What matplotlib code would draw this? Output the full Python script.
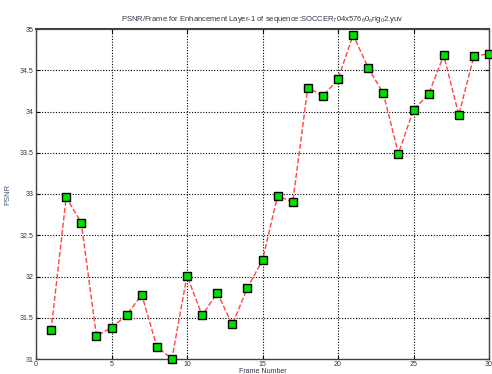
import matplotlib
matplotlib.use("Agg")
import matplotlib.pyplot as plt

# PSNR per frame, enhancement layer 1
frames = list(range(1, 31))
psnr = [31.35, 32.96, 32.65, 31.28, 31.38, 31.53, 31.78, 31.15, 31.00, 32.01,
        31.53, 31.80, 31.42, 31.86, 32.20, 32.98, 32.90, 34.29, 34.19, 34.39,
        34.93, 34.53, 34.22, 33.49, 34.02, 34.21, 34.68, 33.96, 34.67, 34.70]

x_ticks = [0, 5, 10, 15, 20, 25, 30]
y_ticks = [31, 31.5, 32, 32.5, 33, 33.5, 34, 34.5, 35]
y_ticklabels = ["31", "31.5", "32", "32.5", "33", "33.5", "34", "34.5", "35"]

plt.rcParams["font.family"] = ["Liberation Sans", "DejaVu Sans"]
plt.rcParams["mathtext.fontset"] = "custom"
plt.rcParams["mathtext.rm"] = "Liberation Sans"
plt.rcParams["mathtext.it"] = "Liberation Sans"

fig = plt.figure(figsize=(4.92, 3.74), dpi=100)
ax = fig.add_axes([36 / 492, 1 - 359 / 374, (489 - 36) / 492, (359 - 29) / 374])

ax.plot(frames, psnr, linestyle="--", color="#ff4444", lw=1.0,
        marker="s", markersize=5.5, markerfacecolor="#00e000",
        markeredgecolor="black", markeredgewidth=1.0, clip_on=False, zorder=3)

ax.set_xlim(0, 30)
ax.set_ylim(31, 35)
ax.set_xticks(x_ticks)
ax.set_yticks(y_ticks)
ax.set_yticklabels(y_ticklabels)
ax.grid(True, color="black", linestyle=(0, (1, 1.5)), linewidth=0.8)
ax.tick_params(direction="in", length=3, width=0.8, labelsize=5,
               labelcolor="#333344", top=True, right=True, pad=1.5)
for side in ax.spines.values():
    side.set_linewidth(1.0)
    side.set_color("#444444")
ax.spines["top"].set_linewidth(1.5)

ax.set_title("PSNR/Frame for Enhancement Layer-1 of sequence:"
             "SOCCER$_7$04x576$_6$0$_o$rig$_0$2.yuv",
             fontsize=5.5, color="#333344", pad=6)
ax.set_xlabel("Frame Number", fontsize=5, color="#333344", labelpad=0)
ax.set_ylabel("PSNR", fontsize=5.5, color="#445577", labelpad=6)

fig.savefig("out.png", dpi=100)
